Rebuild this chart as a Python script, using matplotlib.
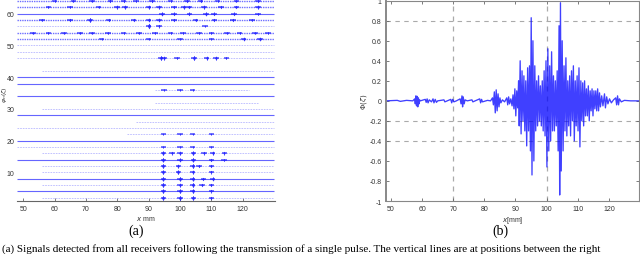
import matplotlib
matplotlib.use("Agg")
import matplotlib.pyplot as plt

# ---------------- data: panel (b) Phi(zeta), extrema ----------------
PHI_X = [48.3, 52.0, 53.0, 55.0, 57.0,
         57.6, 57.8, 58.0, 58.2, 58.4, 58.6, 58.8, 59.0, 59.2, 59.4,
         61.0, 61.3, 61.6, 61.9, 62.3, 63.0, 63.5, 63.8, 64.2, 64.6, 65.0,
         67.0, 67.3, 69.2, 69.5, 69.8, 70.2, 71.0,
         72.2, 72.5, 72.8, 73.0, 73.2, 73.5, 73.8, 74.5,
         76.0, 76.3, 78.5, 78.8, 79.1, 79.4, 81.0, 82.0,
         82.6, 82.9, 83.2, 83.5, 83.8, 84.1, 84.4, 84.7, 85.0, 85.3, 85.8, 86.5,
         87.2, 87.5, 87.8, 88.1, 88.5, 88.9, 89.2, 89.5, 89.8, 90.1, 90.4, 90.7,
         91.0, 91.2, 91.5, 91.8, 92.1, 92.4, 92.7, 93.0, 93.3, 93.6, 93.9, 94.2,
         94.5, 94.8, 95.05, 95.3, 95.6, 95.9, 96.2, 96.5, 96.8, 97.1, 97.4, 97.7,
         98.0, 98.3, 98.6, 98.9, 99.2, 99.5, 99.8, 100.1, 100.4, 100.7, 101.0, 101.3,
         101.6, 101.9, 102.2, 102.5, 102.8, 103.1, 103.4, 103.7, 104.0, 104.2, 104.45,
         104.7, 105.0, 105.3, 105.6, 105.9, 106.2, 106.5, 106.8, 107.1, 107.4, 107.7,
         108.0, 108.3, 108.6, 108.9, 109.2, 109.5, 109.8, 110.1, 110.4, 110.7, 111.0,
         111.3, 111.6, 111.9, 112.2, 112.5, 112.8, 113.1, 113.4, 113.7, 114.0, 114.3,
         114.6, 114.9, 115.2, 115.5, 115.8, 116.1, 116.4, 116.7, 117.0, 117.3, 117.7,
         118.1, 118.6, 118.9, 119.3, 119.7, 120.2, 120.8, 121.5,
         122.2, 122.5, 122.8, 123.1, 123.4, 124.0, 125.0, 127.0, 129.7]
PHI_V = [0.0, 0.005, -0.005, 0.005, 0.0,
         0.02, -0.03, 0.05, -0.05, 0.045, -0.06, 0.03, -0.03, 0.01, 0.0,
         0.015, -0.015, 0.02, -0.02, 0.01, -0.01, 0.02, -0.02, 0.015, -0.015, 0.0,
         0.01, -0.01, 0.015, -0.02, 0.015, -0.01, 0.0,
         0.02, -0.03, 0.05, -0.06, 0.04, -0.03, 0.01, 0.0,
         0.01, -0.01, 0.02, -0.02, 0.015, -0.01, 0.005, 0.0,
         0.03, -0.04, 0.09, -0.12, 0.11, -0.10, 0.07, -0.06, 0.03, -0.02, 0.01, -0.01,
         0.03, -0.04, 0.04, -0.03, 0.02, -0.05, 0.06, -0.08, 0.12, -0.15, 0.10, -0.07,
         0.20, -0.25, 0.40, -0.33, 0.30, -0.20, 0.25, -0.30, 0.20, -0.45, 0.33, -0.30,
         0.35, -0.50, 0.83, -0.74, 0.60, -0.60, 0.35, -0.30, 0.20, -0.25, 0.25, -0.20,
         0.15, -0.25, 0.20, -0.30, 0.30, -0.35, 0.40, -0.66, 0.52, -0.50, 0.35, -0.40,
         0.49, -0.30, 0.25, -0.30, 0.20, -0.25, 0.30, -0.50, 0.75, -0.94, 0.98,
         -0.70, 0.60, -0.50, 0.35, -0.30, 0.43, -0.35, 0.20, -0.25, 0.25, -0.35,
         0.30, -0.20, 0.35, -0.40, 0.20, -0.25, 0.25, -0.30, 0.33, -0.46, 0.20,
         -0.20, 0.18, -0.25, 0.20, -0.15, 0.12, -0.15, 0.15, -0.20, 0.10, -0.10,
         0.12, -0.15, 0.10, -0.08, 0.10, -0.10, 0.12, -0.10, 0.08, -0.06, 0.05,
         -0.05, 0.07, -0.07, 0.04, -0.03, 0.02, -0.02, 0.01,
         0.03, -0.04, 0.05, -0.04, 0.02, -0.01, 0.005, 0.0, 0.0]
REF_X = [70, 100]
REF_Y = [0.8, -0.2, -0.4]
B_XTICKS = [50, 60, 70, 80, 90, 100, 110, 120]
B_YTICKS = [-1, -0.8, -0.6, -0.4, -0.2, 0, 0.2, 0.4, 0.6, 0.8, 1]

# ---------------- data: panel (a) traces ----------------
TRACE_POS = [64, 62, 60, 58, 56, 54, 52, 50, 48, 46, 42, 40, 38, 36, 34, 32,
             30, 28, 26, 24, 22, 20, 18, 16, 14, 12, 10, 8, 6, 4, 2]
TRACE_KIND = ["noisy", "noisy", "solid", "noisy", "faint", "noisy", "noisy", "faint",
              "faint", "faint", "faint", "solid", "solid", "faint", "solid", "faint",
              "faint", "solid", "faint", "faint", "faint", "solid", "faint", "faint",
              "solid", "faint", "faint", "solid", "faint", "solid", "faint"]
TRACE_START = [48, 48, 48, 48, 48, 48, 48, 48, 48, 48, 56, 48, 48, 92, 48, 92,
               56, 48, 86, 48, 83, 48, 48, 56, 48, 56, 56, 48, 56, 48, 56]
TRACE_END = [130, 130, 130, 130, 130, 130, 130, 130, 130, 130, 130, 130, 130, 122, 130, 125,
             130, 130, 130, 130, 130, 130, 130, 130, 130, 130, 130, 130, 130, 130, 130]
BURSTS = {
    64: [(60, .4), (66, .4), (72, .4), (77.8, .5), (82, .5), (86, .4), (91, .5), (97, .4),
         (102.3, .5), (106.6, .5), (112, .4), (118, .4), (124.8, .5)],
    62: [(58, .4), (65, .4), (74, .4), (80, .6), (82.5, .6), (90, .6), (93.3, .6), (98, .5),
         (101.3, .6), (103, .5), (107.7, .6), (113, .5), (118, .5), (124.8, .6)],
    60: [(94.3, .6), (98, .5), (103, .5), (108.4, .6), (110.9, .5), (117.3, .5), (124.8, .4)],
    58: [(56, .4), (65, .5), (71.3, .7), (77.2, .5), (85.2, .5), (90, .6), (93.3, .6),
         (98, .5), (105, .5), (111, .5), (117, .5), (123, .4)],
    56: [(90, .8), (93.3, .5), (108, .3)],
    54: [(53, .4), (58, .4), (63, .4), (68, .4), (72, .4), (77, .4), (82, .4), (87, .4),
         (92, .4), (97, .4), (101, .4), (106, .4), (110, .4), (115, .4), (119, .4),
         (124, .4), (128, .4)],
    52: [(75, .3), (90, .3), (100, .3), (110, .3), (120.3, .6), (125.5, .6)],
    46: [(93.8, .7), (95, .6), (99, .4), (104.4, .7), (108.5, .6), (111.5, .6), (114.8, .4)],
    36: [(95, .3), (100, .3), (104, .3)],
    22: [(94.7, .3), (100, .3), (104, .3), (110, .3)],
    18: [(94.7, .3), (100, .3), (104, .3), (110, .3)],
    16: [(94.7, .7), (97.5, .5), (100, .6), (104.3, .7), (107.6, .5), (110.4, .6), (114.2, .5)],
    14: [(94.7, .7), (100, .6), (104.3, .7), (110, .5), (114, .4)],
    12: [(94.7, .7), (99.5, .6), (104, .7), (106, .5), (110, .5)],
    10: [(94.7, .7), (99.5, .7), (104, .6), (110, .5)],
    8: [(94.7, .7), (100, .7), (104, .7), (107.5, .5), (110.4, .6)],
    6: [(94.7, .7), (100, .6), (104, .7), (107, .5), (110, .5)],
    4: [(94.7, .7), (100, .7), (104, .7), (110, .5)],
    2: [(94.7, .7), (100, .7), (104.3, .7), (110, .5)],
}
A_XTICKS = [50, 60, 70, 80, 90, 100, 110, 120]
A_YTICKS = [10, 20, 30, 40, 50, 60]

CAPTION = ("(a) Signals detected from all receivers following the transmission of a single "
           "pulse. The vertical lines are at positions between the right")

# ---------------- figure ----------------
plt.rcParams['font.family'] = ['Liberation Sans', 'DejaVu Sans']
fig = plt.figure(figsize=(6.4, 2.55), dpi=100)

# panel (a)
axa = fig.add_axes([0.0266, 0.2078, 0.403, 0.792])
for pos, kind, x0, x1 in zip(TRACE_POS, TRACE_KIND, TRACE_START, TRACE_END):
    if kind == "solid":
        axa.plot([x0, x1], [pos, pos], color='#4a4aff', lw=0.8, alpha=0.85,
                 solid_capstyle='butt')
    elif kind == "faint":
        axa.plot([x0, x1], [pos, pos], color='#9a9aff', lw=0.6, alpha=0.7,
                 dashes=(2.0, 1.2))
    else:
        axa.plot([x0, x1], [pos, pos], color='#3030ff', lw=1.0, alpha=0.7,
                 dashes=(1.0, 0.7))
    for bx, amp in BURSTS.get(pos, []):
        axa.plot([bx - 0.9, bx + 0.9], [pos, pos], color='#2020ff', lw=1.1, alpha=0.8,
                 solid_capstyle='butt')
        axa.plot([bx], [pos], marker='d', ms=3.6 * amp, color='#1a1aff', mew=0, alpha=0.85)
        axa.plot([bx, bx], [pos - 0.75 * amp, pos + 0.75 * amp], color='#3030ff',
                 lw=0.5, alpha=0.7)

axa.set_xlim(48, 130.3)
axa.set_ylim(1, 64.6)
axa.set_xticks(A_XTICKS)
axa.set_yticks(A_YTICKS)
for s in ['left', 'right', 'top']:
    axa.spines[s].set_visible(False)
axa.spines['bottom'].set_color('#666666')
axa.spines['bottom'].set_linewidth(0.8)
axa.tick_params(axis='x', direction='in', length=2, width=0.6, colors='#666666',
                labelsize=5, labelcolor='#333333', pad=3)
axa.tick_params(axis='y', length=0, labelsize=5, labelcolor='#333333', pad=2)
axa.set_xlabel(r'$x$ mm', fontsize=5, color='#333333', labelpad=1)
axa.set_ylabel(r'$\varphi_n(\zeta)$', fontsize=4.5, color='#333333')
axa.yaxis.set_label_coords(-0.05, 0.53)
axa.yaxis.label.set_va('center')
axa.yaxis.label.set_ha('center')

# panel (b)
axb = fig.add_axes([0.6027, 0.2078, 0.3958, 0.7855])
for rx in REF_X:
    axb.axvline(rx, color='#aaaaaa', lw=0.9, dashes=(4, 4), zorder=1)
for ry in REF_Y:
    axb.axhline(ry, color='#aaaaaa', lw=0.8, dashes=(4, 4), zorder=1)
axb.plot(PHI_X, PHI_V, color='#0000ff', lw=0.95, alpha=0.75, zorder=2)
axb.set_xlim(48.3, 129.7)
axb.set_ylim(-1, 1)
axb.set_xticks(B_XTICKS)
axb.set_yticks(B_YTICKS)
axb.set_yticklabels(['-1', '-0.8', '-0.6', '-0.4', '-0.2', '0', '0.2', '0.4', '0.6', '0.8', '1'])
for s in axb.spines.values():
    s.set_color('#888888')
    s.set_linewidth(0.8)
axb.spines['left'].set_linewidth(1.4)
axb.tick_params(direction='in', length=2, width=0.6, colors='#666666', labelsize=5,
                labelcolor='#333333', top=True, right=True, pad=3)
axb.set_xlabel(r'$x$[mm]', fontsize=5, color='#333333', labelpad=1)
axb.set_ylabel(r'$\Phi(\zeta)$', fontsize=5, color='#333333', labelpad=0)

# captions
fig.text(136 / 640, 1 - 231 / 255, '(a)', ha='center', va='center', fontsize=10,
         family=['Liberation Serif', 'DejaVu Serif'])
fig.text(500 / 640, 1 - 231 / 255, '(b)', ha='center', va='center', fontsize=10,
         family=['Liberation Serif', 'DejaVu Serif'])
fig.text(2 / 640, 1 - 254.5 / 255, CAPTION, ha='left', va='bottom', fontsize=8,
         family=['Liberation Serif', 'DejaVu Serif'])

fig.savefig('out.png', dpi=100)
